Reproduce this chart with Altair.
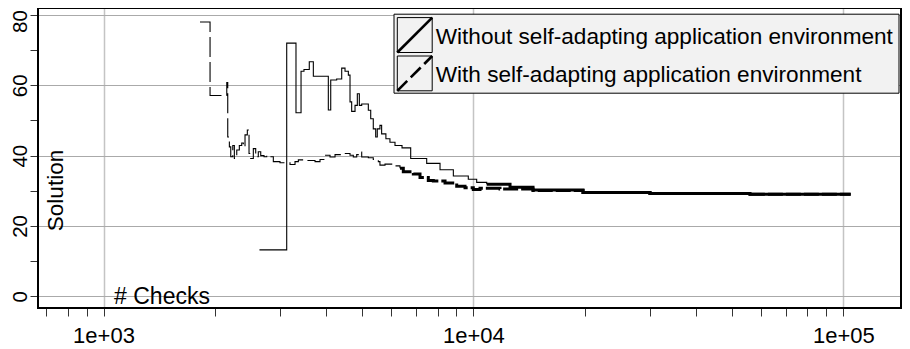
import altair as alt
import pandas as pd

# ---------------- data ----------------
series_names = [
    "Without self-adapting application environment",
    "With self-adapting application environment",
]

checks_without = [2640, 3128, 3314, 3420, 3483, 3600, 3692, 4053, 4114, 4269,
                  4405, 4497, 4591, 4639, 4687, 4786, 4855, 4916, 4989, 5199,
                  5277, 5362, 5443, 5497, 5589, 5648, 5800, 5948, 6138, 6412,
                  6768, 7477, 8124, 8826, 9687, 10206, 10864, 12561, 14494, 19786,
                  30015, 55960, 104700]
solution_without = [13.2, 72.0, 52.2, 64.0, 64.5, 66.7, 62.6, 53.0, 61.5, 61.8,
                    64.9, 64.0, 62.9, 55.3, 52.6, 54.3, 57.6, 54.3, 54.7, 52.9,
                    50.5, 47.6, 45.3, 47.6, 48.6, 46.2, 44.8, 43.8, 42.9, 42.2,
                    39.2, 37.8, 36.0, 34.2, 33.3, 32.4, 31.9, 31.0, 30.2, 29.5,
                    29.2, 29.0, 29.0]
dense_from_without = 10864

checks_with = [1823, 1941, 2154, 2167, 2189, 2208, 2236, 2258, 2292, 2329,
               2364, 2388, 2413, 2448, 2474, 2500, 2541, 2579, 2621, 2661,
               2716, 2762, 2819, 2878, 3000, 3193, 3294, 3363, 3542, 3731,
               3849, 3946, 4096, 4226, 4450, 4639, 4735, 4836, 4906, 4989,
               5199, 5362, 5533, 5589, 5768, 6073, 6332, 6464, 6880, 7172,
               7552, 7792, 8381, 9013, 9491, 9994, 10420, 11800, 14494, 19786,
               30015, 55960, 104700]
solution_with = [78.0, 57.1, 60.8, 45.3, 42.5, 39.7, 42.9, 39.2, 41.6, 42.9,
                 43.6, 42.5, 45.9, 47.3, 40.6, 39.2, 42.0, 39.7, 41.1, 40.0,
                 39.7, 40.0, 39.7, 38.3, 38.0, 37.5, 38.3, 38.8, 38.6, 38.3,
                 38.9, 40.1, 39.6, 40.3, 40.6, 40.1, 39.6, 40.3, 41.0, 39.6,
                 39.4, 38.9, 38.3, 37.3, 37.6, 37.1, 36.4, 35.4, 34.8, 33.8,
                 32.9, 32.8, 32.2, 31.3, 30.9, 30.4, 30.7, 30.5, 30.1, 29.5,
                 29.2, 29.0, 29.0]
dense_from_with = 6332

x_ticks = [700, 800, 900, 1000, 2000, 3000, 4000, 5000, 6000, 7000, 8000, 9000,
           10000, 20000, 30000, 40000, 50000, 60000, 70000, 80000, 90000, 100000]
x_tick_labels = {1000: "1e+03", 10000: "1e+04", 100000: "1e+05"}
y_ticks = [0, 10, 20, 30, 40, 50, 60, 70, 80]
y_labelled = [0, 20, 40, 60, 80]

# ---------------- layout / style ----------------
FONT = "Liberation Sans"
W, H = 863, 300
X_DOMAIN = [665.1, 143220]
Y_DOMAIN = [-3.33, 81.99]


def frame(xs, ys, start=None, stop=None):
    df = pd.DataFrame({"checks": xs, "solution": ys})
    if start is not None:
        df = df[df["checks"] >= start]
    if stop is not None:
        df = df[df["checks"] <= stop]
    return df


x_label_expr = " : ".join(
    f"datum.value == {v} ? '{t}'" for v, t in x_tick_labels.items()) + " : ''"
x_grid_test = " || ".join(f"datum.value == {v}" for v in x_tick_labels)
y_grid_test = " || ".join(f"datum.value == {v}" for v in y_labelled)

x_enc = alt.X(
    "checks:Q",
    scale=alt.Scale(type="log", domain=X_DOMAIN, nice=False),
    axis=alt.Axis(
        values=x_ticks, labelExpr=x_label_expr, domain=False,
        tickSize=8, tickColor="black", tickWidth=0.8,
        labelFont=FONT, labelFontSize=22, labelColor="black", labelPadding=9.5,
        labelFlush=False, labelOverlap=False,
        grid=True, gridColor="#c4c4c4", gridWidth=1.5,
        gridOpacity={"condition": {"test": x_grid_test, "value": 1}, "value": 0},
        title="# Checks", titleFont=FONT, titleFontSize=23, titleFontWeight="normal",
        titleColor="black", titleX=123.5, titleY=-4.5, titleAlign="center",
        titleBaseline="alphabetic", titleAngle=0,
    ),
)
y_enc = alt.Y(
    "solution:Q",
    scale=alt.Scale(domain=Y_DOMAIN, nice=False, zero=False),
    axis=alt.Axis(
        values=y_ticks, domain=False,
        labelExpr=f"({y_grid_test}) ? datum.label : ''",
        labelAngle=270, labelAlign="center", labelBaseline="alphabetic",
        labelOffset={"condition": {"test": "datum.value == 80", "value": 6}, "value": 0},
        tickSize=8, tickColor="black", tickWidth=0.8,
        labelFont=FONT, labelFontSize=20.5, labelColor="black", labelPadding=4,
        labelFlush=False, labelOverlap=False,
        grid=True, gridColor="#aaaaaa", gridWidth=1,
        gridOpacity={"condition": {"test": y_grid_test, "value": 1}, "value": 0},
        title="Solution", titleFont=FONT, titleFontSize=22.5, titleFontWeight="normal",
        titleColor="black", titleX=24, titleY=182, titleAngle=270,
        titleAlign="center", titleBaseline="alphabetic",
    ),
)


def line(df, width, dash=None):
    kw = dict(interpolate="step-after", color="black", strokeWidth=width,
              strokeCap="butt", strokeJoin="miter")
    if dash:
        kw["strokeDash"] = dash
    return alt.Chart(df).mark_line(**kw).encode(x=x_enc, y=y_enc)


layers = [
    line(frame(checks_with, solution_with, stop=dense_from_with), 1.1, [20, 5]),
    line(frame(checks_with, solution_with, start=dense_from_with), 3.0, [15, 3]),
    line(frame(checks_without, solution_without, stop=dense_from_without), 1.1),
    line(frame(checks_without, solution_without, start=dense_from_without), 3.0),
]

one = pd.DataFrame({"k": [0]})

# plot frame (R box)
box = alt.Chart(one).mark_rect(fillOpacity=0, stroke="black", strokeWidth=2).encode(
    x=alt.value(0), x2=alt.value(W), y=alt.value(0), y2=alt.value(H))

# ---------------- legend (drawn box, like R's legend()) ----------------
LX0, LX1, LY0, LY1 = 356, 861, 6.2, 85.2
BX0, BX1 = 359.3, 394.2
rows = [(9.6, 44.5, None), (48.0, 82.8, [14, 5])]

legend_layers = [
    alt.Chart(one).mark_rect(fill="#f2f2f2", stroke="black", strokeWidth=1).encode(
        x=alt.value(LX0), x2=alt.value(LX1), y=alt.value(LY0), y2=alt.value(LY1))
]
for (top, bot, dash), name in zip(rows, series_names):
    legend_layers.append(
        alt.Chart(one).mark_rect(fill="#f2f2f2", stroke="black", strokeWidth=1).encode(
            x=alt.value(BX0), x2=alt.value(BX1), y=alt.value(top), y2=alt.value(bot)))
    rk = dict(color="black", strokeWidth=2.6, strokeCap="butt")
    if dash:
        rk["strokeDash"] = dash
    legend_layers.append(
        alt.Chart(one).mark_rule(**rk).encode(
            x=alt.value(BX0), x2=alt.value(BX1), y=alt.value(bot), y2=alt.value(top)))
    legend_layers.append(
        alt.Chart(one).mark_text(font=FONT, fontSize=22.6, align="left",
                                 baseline="alphabetic", color="black").encode(
            x=alt.value(BX1 + 3.5), y=alt.value(bot - 8.5), text=alt.value(name)))

chart = alt.layer(*layers, box, *legend_layers).properties(
    width=W, height=H,
    autosize=alt.AutoSizeParams(type="none"),
    padding={"left": 30, "top": 0, "right": 1, "bottom": 40},
).configure_view(stroke="transparent").configure(background="white")

chart.save("out.html", embed_options={"renderer": "svg", "actions": False})
